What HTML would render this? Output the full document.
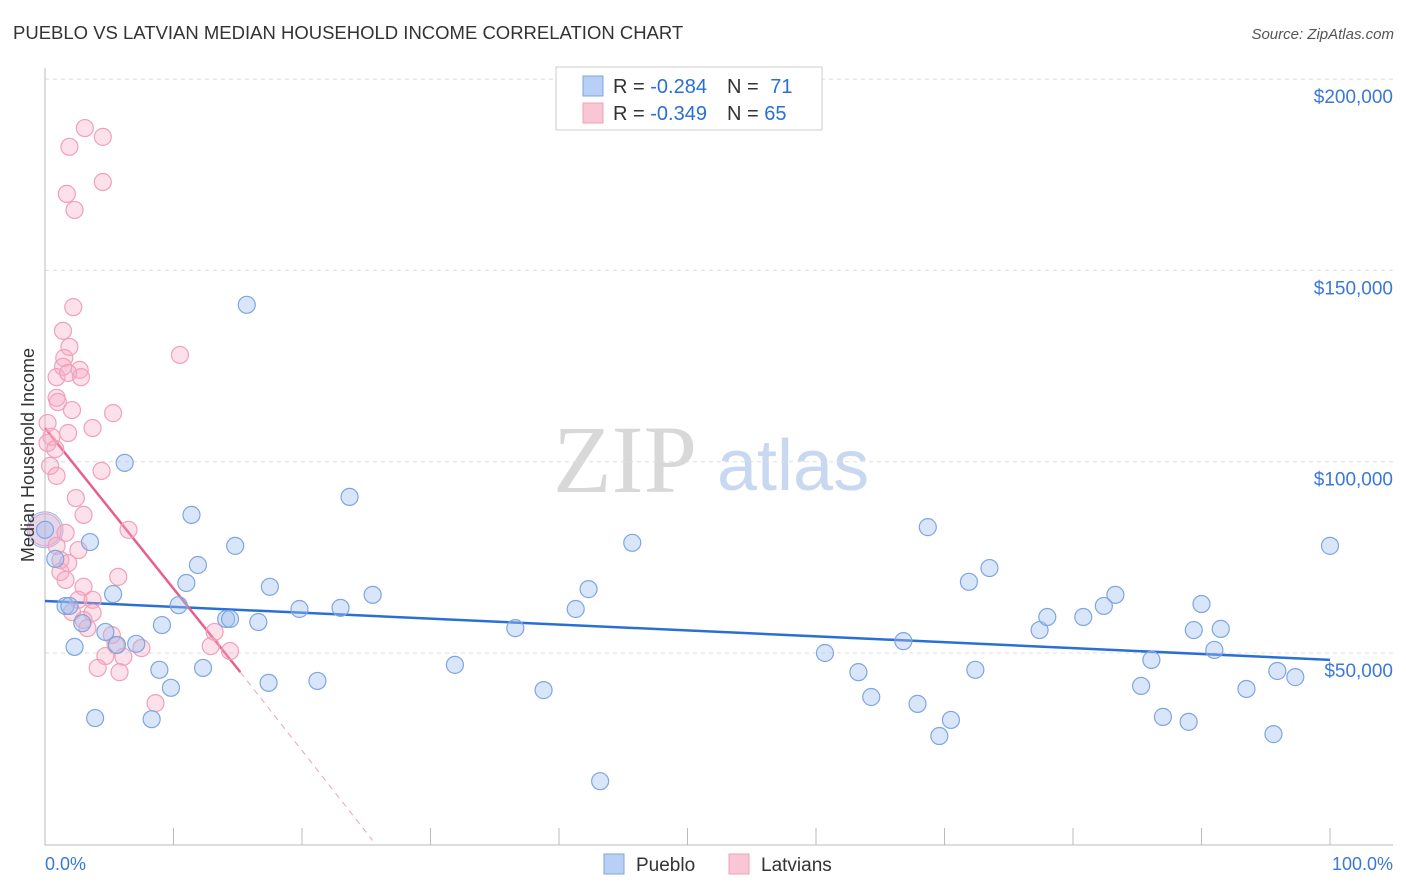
<!DOCTYPE html>
<html><head><meta charset="utf-8"><style>
body{margin:0;background:#fff;font-family:"Liberation Sans",sans-serif;}
svg{display:block}
</style></head><body>
<svg id="chart" width="1406" height="892" xmlns="http://www.w3.org/2000/svg">
<text x="13" y="39" font-size="18.5" fill="#333">PUEBLO VS LATVIAN MEDIAN HOUSEHOLD INCOME CORRELATION CHART</text>
<text x="1394" y="39" font-size="15" fill="#555" font-style="italic" text-anchor="end">Source: ZipAtlas.com</text>
<g>
<text x="553" y="492" font-size="96" font-family="Liberation Serif,serif" fill="#d8d8d8">ZIP</text>
<text x="717" y="490" font-size="72" fill="#c8d8f0">atlas</text>
</g>
<g id="grid"></g>
<g id="axes"></g>
<g id="trends"></g>
<g id="pts"></g>
<text transform="translate(34,455) rotate(-90)" font-size="18" fill="#333" text-anchor="middle">Median Household Income</text>
<g>
<rect x="556" y="67" width="266" height="63" fill="#fff" stroke="#ccc"/>
<rect x="583" y="76" width="20" height="20" fill="#b8d0f5" stroke="#7ea6e0"/>
<rect x="583" y="103" width="20" height="20" fill="#f9c6d5" stroke="#f0a0b8"/>
<text x="613" y="93" font-size="20" fill="#333">R = <tspan fill="#2a6fd6">-0.284</tspan><tspan dx="20">N = </tspan><tspan fill="#2a6fd6" dx="6">71</tspan></text>
<text x="613" y="120" font-size="20" fill="#333">R = <tspan fill="#2a6fd6">-0.349</tspan><tspan dx="20">N = </tspan><tspan fill="#2a6fd6">65</tspan></text>
</g>
<g>
<rect x="604" y="854" width="20" height="20" fill="#b8d0f5" stroke="#7ea6e0"/>
<text x="636" y="871" font-size="19" fill="#333">Pueblo</text>
<rect x="729" y="854" width="20" height="20" fill="#f9c6d5" stroke="#f0a0b8"/>
<text x="761" y="871" font-size="19" fill="#333">Latvians</text>
</g>
</svg>
<script>
const yTicks=[50000,100000,150000,200000];
const yTickLabels=["$50,000","$100,000","$150,000","$200,000"];
const xTickVals=[0,10,20,30,40,50,60,70,80,90,100];
const puebloX=[0,0.8,1.6,1.9,2.3,2.9,3.5,3.9,4.7,5.3,5.6,6.2,7.1,8.3,8.9,9.1,9.8,10.4,11.0,11.4,11.9,12.3,14.1,14.4,14.8,15.7,16.6,17.4,17.5,19.8,21.2,23.0,23.7,25.5,31.9,36.6,38.8,41.3,42.3,43.2,45.7,60.7,63.3,64.3,66.8,67.9,68.7,69.6,70.5,71.9,72.4,73.5,77.4,78.0,80.8,82.4,83.3,85.3,86.1,87.0,89.0,89.4,90.0,91.0,91.5,93.5,95.6,95.9,97.3,100];
const puebloY=[82.2,74.6,62.3,62.3,51.6,57.8,79.0,33.0,55.5,65.4,52.1,99.7,52.4,32.7,45.6,57.3,40.9,62.5,68.3,86.1,73.0,46.1,58.9,58.9,78.0,141.0,58.1,42.2,67.3,61.5,42.7,61.8,90.8,65.2,46.9,56.5,40.3,61.5,66.7,16.5,78.8,50.0,45.0,38.5,53.1,36.7,82.9,28.3,32.5,68.6,45.6,72.2,56.0,59.4,59.4,62.3,65.2,41.4,48.2,33.3,32.0,56.0,62.8,50.8,56.3,40.6,28.8,45.3,43.7,78.0];
const latvianX=[3.1,4.5,1.9,1.7,4.5,2.3,2.2,1.4,10.5,1.9,1.5,1.4,2.7,0.9,1.8,2.8,0.9,1.0,2.1,5.3,0.2,3.7,1.8,0.5,0.2,0.8,0.4,0.9,4.4,2.4,3.0,6.5,1.6,0.9,2.6,1.2,1.8,1.2,5.7,1.6,3.0,2.6,3.7,2.1,3.7,3.0,3.3,5.2,13.2,5.5,7.5,12.9,14.4,4.7,6.1,4.1,5.8,8.6];
const latvianY=[187.2,184.9,182.3,170.0,173.1,165.8,140.4,134.2,127.9,130.0,127.1,124.8,124.0,122.1,123.2,122.1,116.7,115.6,113.5,112.7,110.1,108.8,107.5,106.5,104.9,103.3,98.9,96.3,97.6,90.5,86.1,82.2,81.4,78.0,76.9,74.3,73.5,71.2,69.9,69.1,67.3,63.9,63.9,60.7,60.5,58.6,56.5,54.7,55.5,52.1,51.3,51.8,50.5,49.2,49.0,46.1,45.0,36.9];
const puebloTrend=[[0,63.6],[100,48.2]];
const latvianTrend=[[0,108.8],[15.2,45.0]];
const latvianTrendDash=[[15.2,45.0],[25.5,1.0]];
const NS="http://www.w3.org/2000/svg";
const X=p=>45+p*12.85;
const Y=k=>653-(k-50)*191.3/50;
function mk(t,a,parent){const e=document.createElementNS(NS,t);for(const k in a)e.setAttribute(k,a[k]);document.getElementById(parent).appendChild(e);return e;}
yTicks.forEach((v,i)=>{
 const y=Y(v/1000);
 const l=mk('line',{x1:45,x2:1393,y1:y,y2:y,stroke:'#ddd','stroke-dasharray':'4,4'},'grid');
 
 
 const t=mk('text',{x:1393,y:y+24,'font-size':19,fill:'#3a78d8','text-anchor':'end'},'grid');
 t.textContent=yTickLabels[i];
 
 
});
const ax=mk('line',{x1:45,x2:45,y1:68,y2:845,stroke:'#bbb'},'axes');


const bx=mk('line',{x1:45,x2:1393,y1:845,y2:845,stroke:'#bbb'},'axes');


xTickVals.forEach(v=>{
 const t=mk('line',{x1:X(v),x2:X(v),y1:828,y2:845,stroke:'#bbb'},'axes');
 
 
});
const x0=mk('text',{x:45,y:870,'font-size':18,fill:'#3a78d8'},'axes');x0.textContent='0.0%';


const x1=mk('text',{x:1393,y:870,'font-size':18,fill:'#3a78d8','text-anchor':'end'},'axes');x1.textContent='100.0%';


const bb=mk('circle',{cx:X(0),cy:Y(82.2),r:18,fill:'rgba(160,190,240,0.35)',stroke:'#9ab8e8'},'pts');


const bp=mk('circle',{cx:X(0),cy:Y(82.2),r:16,fill:'rgba(245,170,195,0.3)',stroke:'#f0a0b8'},'pts');


latvianX.forEach((v,i)=>{
 const c=mk('circle',{cx:X(v),cy:Y(latvianY[i]),r:8.5,fill:'rgba(245,170,195,0.35)',stroke:'#f0a0b8','stroke-width':1.2},'pts');
 
 
});
puebloX.forEach((v,i)=>{
 const c=mk('circle',{cx:X(v),cy:Y(puebloY[i]),r:8.5,fill:'rgba(160,190,240,0.4)',stroke:'#7ea6e0','stroke-width':1.2},'pts');
 
 
});
const tp=mk('line',{x1:X(puebloTrend[0][0]),y1:Y(puebloTrend[0][1]),x2:X(puebloTrend[1][0]),y2:Y(puebloTrend[1][1]),stroke:'#2a6fd6','stroke-width':2.5},'trends');


const tl=mk('line',{x1:X(latvianTrend[0][0]),y1:Y(latvianTrend[0][1]),x2:X(latvianTrend[1][0]),y2:Y(latvianTrend[1][1]),stroke:'#e8608a','stroke-width':2.5},'trends');


const td=mk('line',{x1:X(latvianTrendDash[0][0]),y1:Y(latvianTrendDash[0][1]),x2:X(latvianTrendDash[1][0]),y2:Y(latvianTrendDash[1][1]),stroke:'#f0a0b8','stroke-width':1,'stroke-dasharray':'6,5'},'trends');


</script>
</body></html>
